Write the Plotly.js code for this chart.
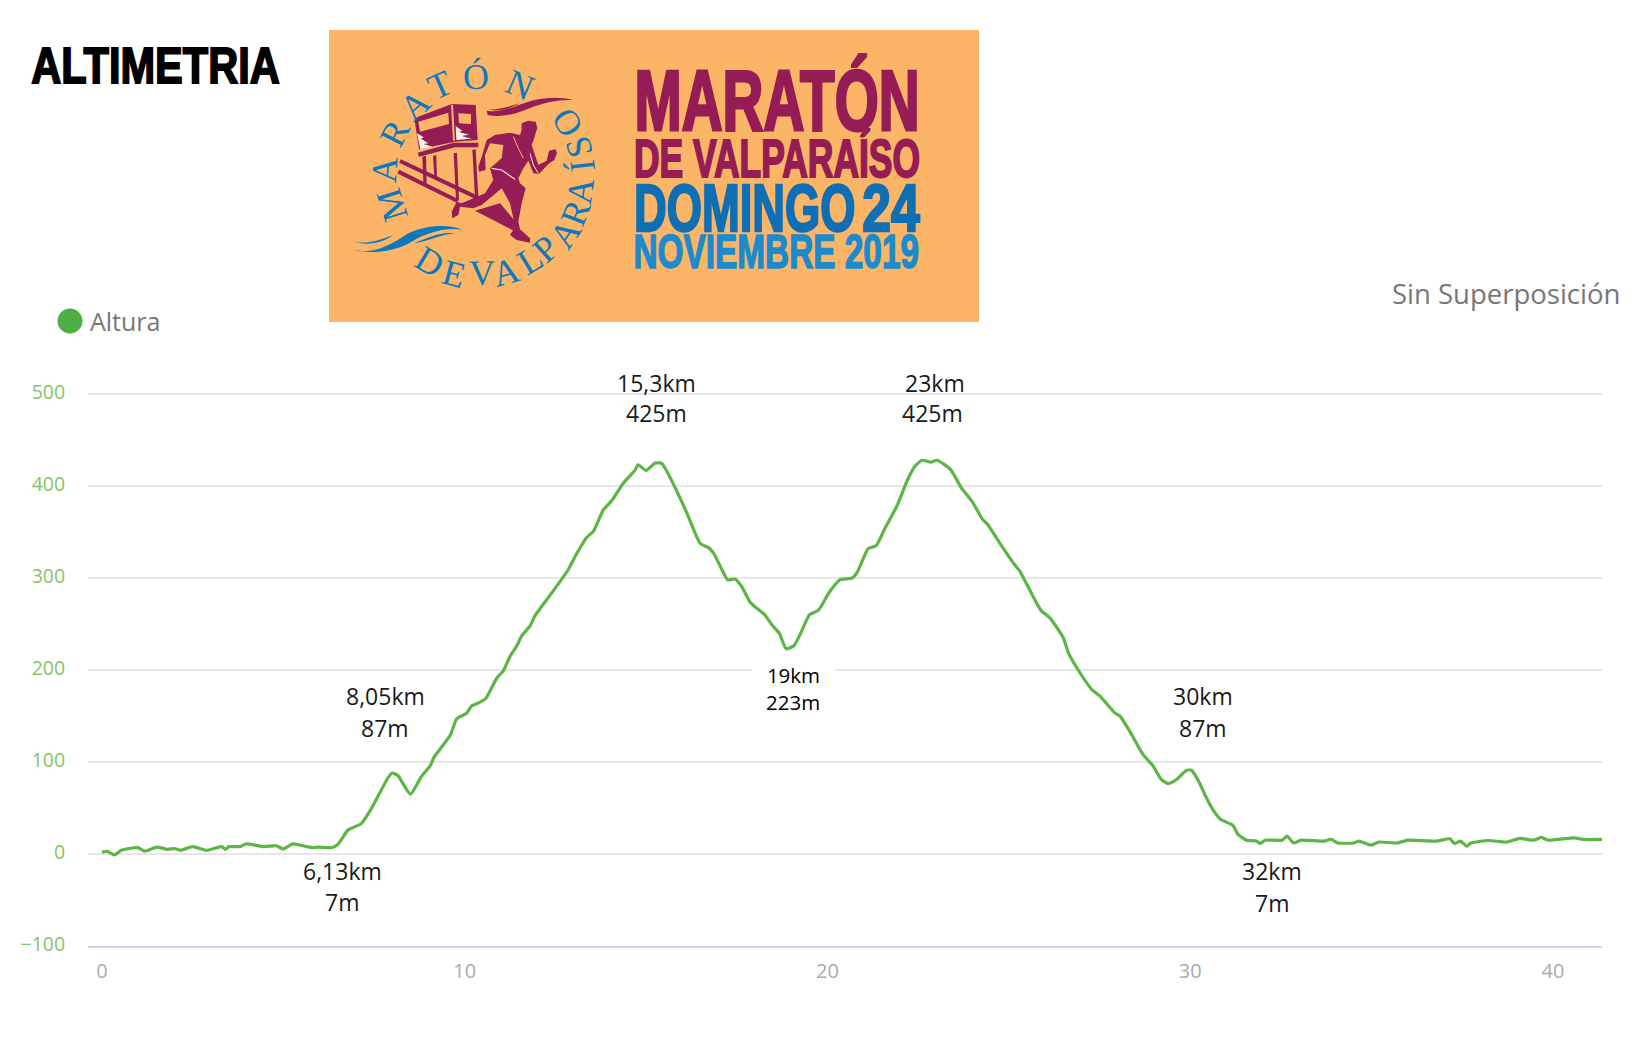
<!DOCTYPE html>
<html>
<head>
<meta charset="utf-8">
<script src="https://cdn.plot.ly/plotly-3.0.1.min.js"></script>
<style>html,body{margin:0;padding:0;background:#fff}#chart{width:1649px;height:1059px}</style>
</head>
<body>
<div id="chart"></div>
<script>
// ---- data ----
const distanceKm = [0,0.14,0.34,0.53,0.98,1.18,1.52,1.8,2.0,2.16,2.5,2.88,3.3,3.4,3.5,3.8,3.98,4.47,4.8,5.0,5.26,5.65,5.8,5.95,6.34,6.5,6.78,6.93,7.15,7.42,7.87,8.0,8.16,8.5,8.8,9.05,9.15,9.6,9.78,10.05,10.19,10.42,10.58,10.88,11.06,11.25,11.43,11.57,11.8,11.93,12.44,12.85,13.08,13.36,13.55,13.82,14.05,14.37,14.69,14.78,15.0,15.25,15.43,15.57,15.85,16.12,16.49,16.72,16.86,17.09,17.25,17.45,17.63,17.88,18.27,18.47,18.67,18.86,19.08,19.26,19.5,19.75,20.04,20.34,20.68,20.83,21.12,21.34,21.57,21.91,22.21,22.41,22.6,22.85,23.02,23.39,23.69,23.98,24.27,24.42,24.75,25.12,25.3,25.76,25.9,26.13,26.5,26.64,26.96,27.28,27.51,27.92,28.06,28.33,28.7,28.98,29.2,29.39,29.62,29.9,30.03,30.26,30.4,30.65,30.84,31.17,31.32,31.55,31.83,31.92,32.06,32.53,32.67,32.85,33.06,33.69,33.88,34.07,34.5,34.65,34.99,35.2,35.7,36,36.77,37.16,37.28,37.45,37.62,37.74,38.22,38.71,39.09,39.48,39.67,39.87,40.59,40.83,41.37];
const altitudeM = [2,3,-1,4,7,3,7.5,5,6,4,8,4,8,5,8,8,11,8,9,5.5,11,8,7,7.5,7,10.5,26,29,33,49,82,88,85,65,84,96,105,129,147,153,161,165,169,191,199,215,226,237,248,258.5,286,309,326,344,351,374,384,403,417,423,417,425,424.5,416,394,371,337.5,333,327,309,298,299,291,273,260,249,240,223,226.6,240,260,265,284,298,300,307,332,335,353,378,407,421.5,428,426,428,418,398,383.5,364,358,338,316.5,307.4,273,264,256.7,235,218.7,197,179,171.6,153.4,150,133.5,108,95.5,81,76.6,81,91,91,77,64.7,46.6,37.5,31.3,21,15,14,11.4,15,15,19.4,12,15,14,16,12,12,14,9.6,13,12,15,14,16.5,11.4,14,8.5,12,14.7,13,17,15,18,15,17.6,15.8,15.8];
const yTicks = [-100,0,100,200,300,400,500];
const xTicks = [0,10,20,30,40];
const seriesName = "Altura";
const heading = "ALTIMETRIA";
const overlapLabel = "Sin Superposición";
const calloutLines = ["15,3km","425m","23km","425m","8,05km","87m","6,13km","7m","30km","87m","32km","7m"];
const calloutLow = ["19km","223m"];
const logoLines = ["MARATÓN","DE VALPARAÍSO","DOMINGO","24","NOVIEMBRE 2019"];
const ringTop = ["M","A","R","A","T","Ó","N"];
const ringBottom = ["D","E","V","A","L","P","A","R","A","Í","S","O"];

// ---- layout only ----
const W = 1649, H = 1059;
const px = x => x / W, py = y => 1 - y / H;
const calloutPos = [[656,383],[656,413],[935,383],[932,413],[385,696],[385,728],[342,871],[342,902],[1203,696],[1203,728],[1272,871],[1272,903]];
const ringCentre = [480.5,176.7];
const ringTopPos = [[-107.7,93],[-86,96],[-63,96],[-42.4,97],[-24,100],[-2.5,100],[23,100]];
const ringBottomPos = [[30.5,98.6],[15,101],[-1,96.6],[-15,98.5],[-31,96.8],[-42,97.7],[-56,101.8],[-69,101.8],[-82,100.6],[-96.5,102.6],[-107,103.3],[-122,102]];
const MAROON = "#951C55", BLUE = "#0F6FB4", LIGHTBLUE = "#1C8ACB", RING = "#0F78BA";
const stretch = {};

function note(text, x, y, size, color, family, extra) {
  return Object.assign({text, x: px(x), y: py(y), xref:"paper", yref:"paper", xanchor:"center", yanchor:"middle",
    showarrow:false, borderpad:0, borderwidth:0, font:{size, color, family}}, extra || {});
}
function wide(text, left, right, yc, size, color, family, weight, strokeW) {
  stretch[text] = {w: right-left, s: strokeW, c: color};
  return note(text, (left+right)/2, yc, size, color, family, {font:{size, color, family, weight}});
}
const annotations = [];
annotations.push(wide(heading, 31.5, 280, 66, 50, "#000", "Liberation Sans", 700, 1.8));
annotations.push(wide(overlapLabel, 1391.5, 1620, 293, 27, "#777777", "Open Sans", 400, 0));
annotations.push(note(seriesName, 125, 321, 25, "#777777", "Open Sans"));
annotations.push(wide(logoLines[0], 634, 919, 100.5, 85, MAROON, "Liberation Sans", 700, 3));
annotations.push(wide(logoLines[1], 633.5, 919.5, 159, 53, MAROON, "Liberation Sans", 700, 2));
annotations.push(wide(logoLines[2], 634, 855.5, 208, 66.6, BLUE, "Liberation Sans", 700, 2.4));
annotations.push(wide(logoLines[3], 862, 919.5, 208, 66.6, BLUE, "Liberation Sans", 700, 2.4));
annotations.push(wide(logoLines[4], 634, 919.5, 252, 47.5, LIGHTBLUE, "Liberation Sans", 700, 1.5));
ringTop.forEach((ch,i)=>{
  const a = ringTopPos[i][0]*Math.PI/180, r = ringTopPos[i][1];
  annotations.push(note(ch, ringCentre[0]+r*Math.sin(a), ringCentre[1]-r*Math.cos(a), 36, RING, "Liberation Serif", {textangle:ringTopPos[i][0]}));
});
ringBottom.forEach((ch,i)=>{
  const a = ringBottomPos[i][0]*Math.PI/180, r = ringBottomPos[i][1];
  annotations.push(note(ch, ringCentre[0]-r*Math.sin(a), ringCentre[1]+r*Math.cos(a), 36, RING, "Liberation Serif", {textangle:ringBottomPos[i][0]}));
});
calloutLines.forEach((t,i)=>annotations.push(note(t, calloutPos[i][0], calloutPos[i][1], 23, "#1a1a1a", "Open Sans")));
annotations.push(note(calloutLow[0], 793, 675, 20.5, "#000", "Open Sans", {bgcolor:"#fff", width:83, height:28}));
annotations.push(note(calloutLow[1], 793, 702, 20.5, "#000", "Open Sans"));

// logo artwork: written in the pixels of a 3x crop whose origin is (345,90)
function art(d) {
  return d.replace(/(-?\d+\.?\d*),(-?\d+\.?\d*)/g, (m,a,b)=>{
    const rx = 345 + a/3, ry = 90 + b/3;
    return px(rx).toFixed(5) + "," + py(ry).toFixed(5);
  }).replace(/([MLCQ])/g," $1 ").replace(/,/g," ");
}
function fill(d, color) { return {type:"path", xref:"paper", yref:"paper", path:art(d), fillcolor:color, line:{width:0}, layer:"above"}; }
function stroke(d, color, w) { return {type:"path", xref:"paper", yref:"paper", path:art(d), line:{color, width:w}, layer:"above"}; }
const ORANGE = "#FCB567";
const shapes = [
  {type:"rect", xref:"paper", yref:"paper", x0:px(329), x1:px(979), y0:py(30), y1:py(322), fillcolor:ORANGE, line:{width:0}, layer:"above"},
  // tower cabin
  fill("M208,85 L320,42 L392,45 L398,150 L330,155 L222,178 Z", MAROON),
  fill("M220,95 L310,68 L312,102 L225,125 Z", ORANGE),
  fill("M340,70 L378,72 L378,102 L342,100 Z", ORANGE),
  fill("M318,44 L324,44 L330,152 L324,152 Z", ORANGE),
  fill("M216,130 L236,142 L228,146 L250,160 L236,162 L262,170 L226,178 Z", "#FFF3E6"),
  fill("M332,108 L352,122 L342,126 L372,134 L350,138 L380,146 L334,150 Z", "#FFF3E6"),
  fill("M218,188 L325,158 L400,158 L400,172 L330,172 L222,200 Z", MAROON),
  // legs and shadows
  fill("M232,200 L243,197 L245,282 L235,277 Z", MAROON),
  fill("M264,198 L274,195 L276,264 L268,260 Z", MAROON),
  fill("M326,190 L336,188 L342,332 L333,327 Z", MAROON),
  fill("M382,180 L392,178 L400,320 L390,324 Z", MAROON),
  stroke("M165,213 L395,322", MAROON, 4),
  stroke("M160,245 L338,333", MAROON, 4),
  fill("M390,362 L465,340 L512,395 L506,422 Z", MAROON),
  // runner
  fill("M530,100 L550,92 L572,95 L577,115 L572,128 L566,150 L560,165 L570,195 L580,225 L605,212 L612,182 L632,178 L636,190 L628,210 L610,222 L582,252 L565,250 L550,212 L535,235 L520,265 L525,280 L542,295 L530,340 L520,395 L525,418 L555,445 L555,458 L515,450 L495,435 L508,415 L505,385 L495,340 L470,295 L440,320 L410,345 L385,355 L345,350 L340,375 L322,385 L320,365 L335,335 L350,340 L385,325 L420,310 L445,270 L435,235 L470,205 L475,165 L435,160 L420,195 L422,240 L402,245 L400,230 L412,195 L425,150 L450,135 L495,128 L525,135 L530,120 Z", MAROON),
  stroke("M505,140 L520,175 L535,205", ORANGE, 1),
  stroke("M555,190 L565,225 L580,250", "#FFE9D2", 1),
  stroke("M440,235 L470,240 L510,268", "#FFE9D2", 1.2),
  // waves
  fill("M425,62 C470,72 520,42 560,32 C600,22 650,20 682,30 C640,28 600,38 565,50 C530,65 480,85 428,75 Z", MAROON),
  fill("M430,58 C460,60 490,50 525,40 C495,55 460,68 430,58 Z", MAROON),
  fill("M22,478 C80,495 130,470 190,430 C240,405 310,400 355,420 C310,410 250,425 200,455 C150,485 70,495 22,478 Z", RING),
  fill("M22,452 C60,465 90,455 145,435 C110,460 60,470 22,452 Z", RING),
  fill("M205,460 C250,445 280,425 330,430 C280,435 250,455 205,460 Z", RING),
  // legend dot
  {type:"circle", xref:"paper", yref:"paper", x0:px(57.5), x1:px(82.5), y0:py(308.5), y1:py(333.5), fillcolor:"#4DAE45", line:{width:0}, layer:"above"}
];

const trace = {x: distanceKm, y: altitudeM, name: seriesName, type:"scatter", mode:"lines",
  line:{color:"#5DB546", width:3.2, shape:"spline", smoothing:0.5}, hoverinfo:"x+y"};

const layout = {
  width:W, height:H, margin:{l:0,r:0,t:0,b:0,autoexpand:false},
  paper_bgcolor:"#fff", plot_bgcolor:"#fff", showlegend:false,
  xaxis:{domain:[px(88),px(1602)], range:[-0.386,41.35], tickvals:xTicks, ticktext:xTicks.map(String), showgrid:false, zeroline:false,
    showline:true, linecolor:"#CCD6EB", linewidth:1.5, ticks:"outside", ticklen:6, tickcolor:"rgba(0,0,0,0)",
    tickfont:{family:"Open Sans", size:20, color:"#ABABAB"}},
  yaxis:{domain:[py(946),py(391.24)], range:[-100,503], tickvals:yTicks, showgrid:true, gridcolor:"#E6E6E6", gridwidth:1.5, zeroline:false,
    ticks:"outside", ticklen:18, tickcolor:"rgba(0,0,0,0)", ticklabelshift:-2,
    tickfont:{family:"Open Sans", size:19.5, color:"#84C665"}},
  shapes, annotations
};

Plotly.newPlot("chart",[trace],layout,{displayModeBar:false,staticPlot:true}).then(()=>{
  document.querySelectorAll(".annotation-text").forEach(t=>{
    const k = stretch[t.textContent];
    if(!k) return;
    t.setAttribute("textLength", k.w);
    t.setAttribute("lengthAdjust","spacingAndGlyphs");
    if(k.s){ t.style.stroke = k.c; t.style.strokeWidth = k.s + "px"; }
  });
});
</script>
</body>
</html>
